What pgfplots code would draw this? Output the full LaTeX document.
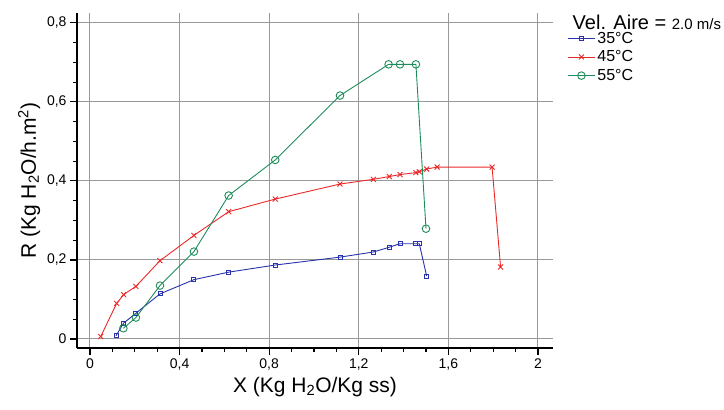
\documentclass[border=0pt]{standalone}
\usepackage{pgfplots}
\pgfplotsset{compat=1.18}
\usepackage{fontspec}
\setmainfont{Liberation Sans}
\definecolor{c35}{RGB}{40,50,170}
\definecolor{c45}{RGB}{235,40,40}
\definecolor{c55}{RGB}{30,140,90}
\begin{document}
\begin{tikzpicture}
\begin{axis}[
  scale only axis, width=476pt, height=335pt,
  xmin=-0.058, xmax=2.067, ymin=-0.023, ymax=0.825,
  axis lines*=left,
  axis line style={line width=1.5pt},
  xtick={0,0.4,0.8,1.2,1.6,2}, ytick={0,0.2,0.4,0.6,0.8},
  minor x tick num=3, minor y tick num=3,
  tick align=outside, major tick length=7pt, minor tick length=4pt,
  tick style={black, line width=1.2pt},
  grid=major, grid style={black!40, line width=1pt},
  /pgf/number format/use comma,
  /pgf/number format/assume math mode=true,
  ticklabel style={font=\fontsize{14}{16}\selectfont},
  xlabel={X (Kg H\textsubscript{2}O/Kg ss)},
  ylabel={R (Kg H\textsubscript{2}O/h.m\textsuperscript{2})},
  label style={font=\fontsize{21}{24}\selectfont},
  legend style={draw=none, fill=none, at={(1.03,0.95)}, anchor=north west,
    font=\fontsize{16}{18}\selectfont, row sep=2pt, inner sep=0pt},
  legend cell align=left,
  legend image code/.code={\draw[mark repeat=2,mark phase=2]
    plot coordinates {(0pt,0pt) (13.5pt,0pt) (27pt,0pt)};},
  clip=false,
]
\addplot[c35, line width=0.9pt, mark=square, mark size=2pt, mark options={fill=white}] coordinates {
  (0.116,0.008) (0.150,0.040) (0.205,0.065) (0.3125,0.114) (0.464,0.150)
  (0.619,0.169) (0.827,0.187) (1.116,0.207) (1.265,0.220) (1.336,0.232)
  (1.384,0.241) (1.455,0.241) (1.470,0.241) (1.503,0.159)
};
\addlegendentry{35°C}
\addplot[c45, line width=0.9pt, mark=x, mark size=3.5pt] coordinates {
  (0.048,0.006) (0.119,0.090) (0.150,0.112) (0.205,0.133) (0.3125,0.198)
  (0.464,0.262) (0.619,0.322) (0.827,0.354) (1.116,0.392) (1.265,0.404)
  (1.336,0.411) (1.384,0.416) (1.455,0.421) (1.470,0.423) (1.503,0.430)
  (1.550,0.435) (1.795,0.435) (1.833,0.182)
};
\addlegendentry{45°C}
\addplot[c55, line width=0.9pt, mark=o, mark size=3.8pt, mark options={fill=white}] coordinates {
  (0.149,0.027) (0.205,0.054) (0.3125,0.135) (0.464,0.221) (0.619,0.363)
  (0.827,0.453) (1.116,0.616) (1.333,0.695) (1.384,0.695) (1.455,0.695)
  (1.500,0.279)
};
\addlegendentry{55°C}
\node[anchor=west, font=\fontsize{20}{22}\selectfont, inner sep=0pt]
  at (axis description cs:1.041,0.973) {Vel. Aire = {\fontsize{15}{17}\selectfont 2.0 m/s}};
\coordinate (ll) at (rel axis cs:0,0);
\end{axis}
\pgfresetboundingbox
\path[use as bounding box] ([shift={(-77pt,-62pt)}]ll) rectangle ([shift={(647pt,348pt)}]ll);
\end{tikzpicture}
\end{document}
